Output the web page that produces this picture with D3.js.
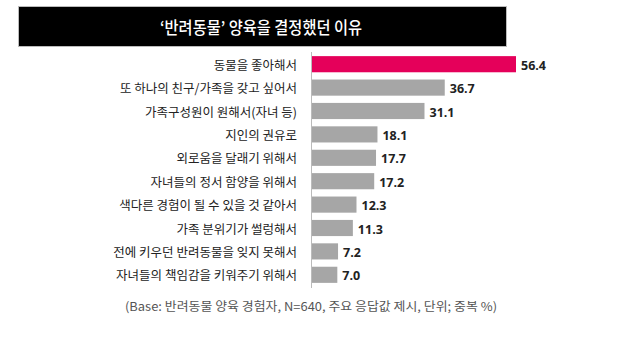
<!DOCTYPE html>
<html><head><meta charset="utf-8">
<script src="https://cdn.jsdelivr.net/npm/d3@7"></script>
<style>body{margin:0;background:#fff;} svg{display:block;}</style>
</head><body>
<svg id="c" width="621" height="358"></svg>
<script>
const title = "‘반려동물’ 양육을 결정했던 이유";
const categories = ["동물을 좋아해서","또 하나의 친구/가족을 갖고 싶어서","가족구성원이 원해서(자녀 등)","지인의 권유로","외로움을 달래기 위해서","자녀들의 정서 함양을 위해서","색다른 경험이 될 수 있을 것 같아서","가족 분위기가 썰렁해서","전에 키우던 반려동물을 잊지 못해서","자녀들의 책임감을 키워주기 위해서"];
const values = [56.4,36.7,31.1,18.1,17.7,17.2,12.3,11.3,7.2,7.0];
const valueLabels = ["56.4","36.7","31.1","18.1","17.7","17.2","12.3","11.3","7.2","7.0"];
const note = "(Base: 반려동물 양육 경험자, N=640, 주요 응답값 제시, 단위; 중복 %)";

const svg = d3.select("#c");
const font = "'Noto Sans CJK KR','Noto Sans',sans-serif";

svg.append("rect").attr("x",18.5).attr("y",6.5).attr("width",488).attr("height",40).attr("fill","#000").attr("stroke","#bbb").attr("stroke-width",1);
svg.append("text").attr("x",160).attr("y",27).attr("dominant-baseline","central")
  .attr("textLength",202).attr("lengthAdjust","spacingAndGlyphs")
  .attr("fill","#fff").attr("font-family",font).attr("font-size",16.5).attr("font-weight",500).text(title);

const x = d3.scaleLinear().domain([0,56.4]).range([312,516]);
const y = d3.scaleBand().domain(categories).range([52.5,286.5]).paddingInner(0.31).paddingOuter(0.155);

svg.append("g").selectAll("rect").data(values).join("rect")
  .attr("x",x(0)).attr("y",(d,i)=>y(categories[i])).attr("width",d=>x(d)-x(0)).attr("height",y.bandwidth())
  .attr("fill",(d,i)=>i===0?"#e5005a":"#a6a6a6");

svg.append("line").attr("x1",311.5).attr("x2",311.5).attr("y1",52).attr("y2",288).attr("stroke","#bbb").attr("stroke-width",1);

svg.append("g").selectAll("text").data(categories).join("text")
  .attr("x",297).attr("y",d=>y(d)+y.bandwidth()/2).attr("text-anchor","end").attr("dominant-baseline","central")
  .attr("fill","#222").attr("font-family",font).attr("font-size",12.5).text(d=>d);

svg.append("g").selectAll("text").data(values).join("text")
  .attr("x",d=>x(d)+5).attr("y",(d,i)=>y(categories[i])+y.bandwidth()/2+1).attr("dominant-baseline","central")
  .attr("fill","#222").attr("font-family","'Open Sans',sans-serif").attr("font-weight",700).attr("font-size",12.5)
  .text((d,i)=>valueLabels[i]);

svg.append("text").attr("x",125).attr("y",305).attr("dominant-baseline","central")
  .attr("textLength",372).attr("lengthAdjust","spacingAndGlyphs")
  .attr("fill","#555").attr("font-family",font).attr("font-size",12).text(note);
</script>
</body></html>
